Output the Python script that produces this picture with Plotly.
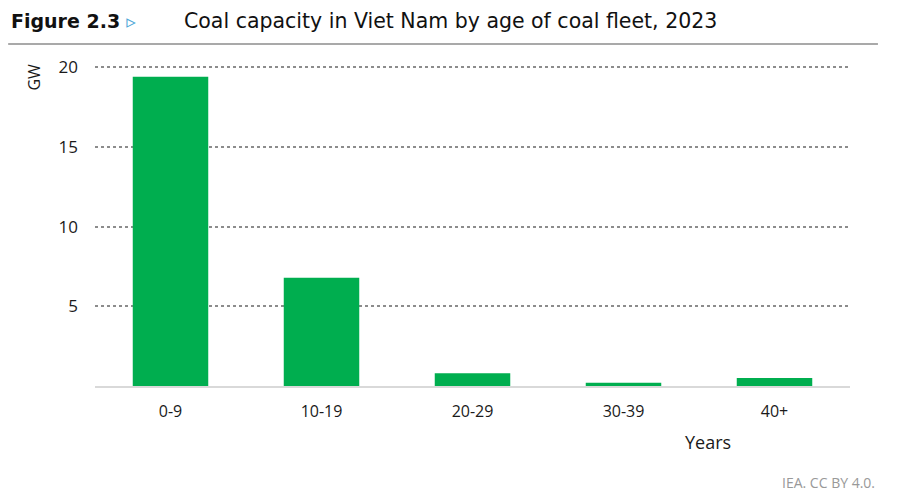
import plotly.graph_objects as go

categories = ["0-9", "10-19", "20-29", "30-39", "40+"]
capacity_gw = [19.4, 6.8, 0.8, 0.2, 0.5]
y_ticks = [5, 10, 15, 20]

fig = go.Figure(go.Bar(x=categories, y=capacity_gw, marker_color="#00ae4f",
                       marker_line_width=0, width=0.5))

fig.update_layout(
    width=908, height=502,
    margin=dict(l=87, r=66, t=58, b=124, autoexpand=False),
    plot_bgcolor="white", paper_bgcolor="white",
    showlegend=False,
    font=dict(family="Open Sans, Noto Sans, sans-serif", size=16, color="#1a1a1a"),
)
fig.update_yaxes(range=[0, 20.08], tickvals=y_ticks, showgrid=True, gridcolor="#8c8c8c",
                 griddash="dot", gridwidth=1.5, zeroline=False, showline=False,
                 ticks="", ticklabelstandoff=16, tickfont=dict(size=17))
fig.update_xaxes(showline=True, linecolor="#d9d9d9", linewidth=2, ticks="",
                 ticklabelstandoff=10, tickfont=dict(size=16))

fig.add_annotation(xref="paper", yref="paper", x=-0.082, y=1.0125, text="GW", textangle=-90,
                   showarrow=False, xanchor="center", yanchor="top",
                   font=dict(size=16, color="#1a1a1a"))
fig.add_annotation(xref="paper", yref="paper", x=0.812, y=-0.175, text="Years",
                   showarrow=False, xanchor="center", yanchor="middle",
                   font=dict(size=18, color="#1a1a1a"))
fig.add_annotation(xref="paper", yref="paper", x=1.036, y=-0.3, text="IEA. CC BY 4.0.",
                   showarrow=False, xanchor="right", yanchor="middle",
                   font=dict(size=14, color="#999999"))

fig.add_annotation(xref="paper", yref="paper", x=-0.114, y=1.141, xanchor="left", yanchor="middle",
                   text="<b>Figure 2.3</b> <span style='color:#4fa8d8'>▹</span>",
                   showarrow=False, font=dict(family="DejaVu Sans, sans-serif", size=19, color="#111111"))
fig.add_annotation(xref="paper", yref="paper", x=0.115, y=1.141, xanchor="left", yanchor="middle",
                   text="Coal capacity in Viet Nam by age of coal fleet, 2023",
                   showarrow=False, font=dict(family="DejaVu Sans, sans-serif", size=20.5, color="#111111"))
fig.add_shape(type="line", xref="paper", yref="paper", x0=-0.115, x1=1.037, y0=1.069, y1=1.069,
              line=dict(color="#8c8c8c", width=1.5))

fig.write_html("out.html")
